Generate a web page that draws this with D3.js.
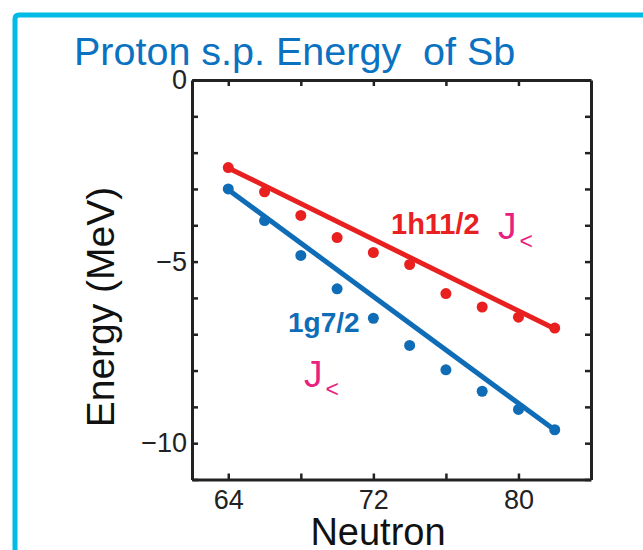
<!DOCTYPE html>
<html>
<head>
<meta charset="utf-8">
<script src="https://cdn.jsdelivr.net/npm/d3@7"></script>
<style>
  body { margin: 0; background: #fff; }
  text { font-family: "Liberation Sans", Arial, Helvetica, sans-serif; }
</style>
</head>
<body>
<div id="chart"></div>
<script>
// neutron numbers of the Sb isotopes
const neutrons = [64, 66, 68, 70, 72, 74, 76, 78, 80, 82];
// proton single-particle energies (MeV)
const h11 = [-2.41, -3.08, -3.73, -4.34, -4.75, -5.08, -5.88, -6.25, -6.53, -6.83];
const g7 = [-3.0, -3.87, -4.83, -5.75, -6.56, -7.31, -7.98, -8.57, -9.07, -9.63];
// straight trend lines [neutron, energy]
const h11Fit = [[64, -2.42], [82, -6.85]];
const g7Fit = [[64, -3.02], [82, -9.64]];

const xTicks = [64, 68, 72, 76, 80];
const xLabels = [64, 72, 80];
const yTicks = [0, -1, -2, -3, -4, -5, -6, -7, -8, -9, -10, -11];
const yLabels = [0, -5, -10];

const W = 643, H = 550;
const red = "#e8201f", blue = "#0f6cb6", pink = "#e8217f";
const fontFam = "'Liberation Sans', Arial, Helvetica, sans-serif";

const svg = d3.select("#chart").append("svg")
  .attr("width", W)
  .attr("height", H);

// slide frame
svg.append("path")
  .attr("d", "M15,550 L15,19 Q15,15 19,15 L643,15")
  .attr("fill", "none")
  .attr("stroke", "#00bbe6")
  .attr("stroke-width", 5);

svg.append("text")
  .attr("x", 74)
  .attr("y", 65)
  .attr("font-size", 39.5)
  .attr("fill", "#0b72c2")
  .attr("xml:space", "preserve")
  .text("Proton s.p. Energy  of Sb");

const x = d3.scaleLinear().domain([62, 84]).range([192, 591]);
const y = d3.scaleLinear().domain([-11, 0]).range([479.5, 80]);

const fmt = d3.format("d");
const tick = 6;

const styleAxis = g => {
  g.select(".domain").attr("stroke", "#222").attr("stroke-width", 3);
  g.selectAll(".tick line").attr("stroke", "#222").attr("stroke-width", 2.5);
  g.selectAll(".tick text").attr("fill", "#222").attr("font-family", fontFam);
};

svg.append("g")
  .attr("transform", `translate(0,${y(-11)})`)
  .call(d3.axisBottom(x).tickValues(xTicks).tickSizeInner(-tick).tickSizeOuter(0)
    .tickPadding(8).tickFormat(d => xLabels.includes(d) ? fmt(d) : ""))
  .attr("font-size", 27)
  .call(styleAxis)
  .selectAll(".tick text").attr("dy", "0.72em").attr("y", 10);

svg.append("g")
  .attr("transform", `translate(0,${y(0)})`)
  .call(d3.axisTop(x).tickValues(xTicks).tickSizeInner(-tick).tickSizeOuter(0).tickFormat(""))
  .call(styleAxis);

svg.append("g")
  .attr("transform", `translate(${x(62)},0)`)
  .call(d3.axisLeft(y).tickValues(yTicks).tickSizeInner(-tick).tickSizeOuter(0)
    .tickPadding(5).tickFormat(d => yLabels.includes(d) ? fmt(d) : ""))
  .attr("font-size", 27)
  .call(styleAxis);

svg.append("g")
  .attr("transform", `translate(${x(84)},0)`)
  .call(d3.axisRight(y).tickValues(yTicks).tickSizeInner(-tick).tickSizeOuter(0).tickFormat(""))
  .call(styleAxis);

// axis titles
svg.append("text")
  .attr("transform", "translate(114,307) rotate(-90)")
  .attr("text-anchor", "middle")
  .attr("font-size", 39)
  .attr("fill", "#111")
  .text("Energy (MeV)");

svg.append("text")
  .attr("x", 378)
  .attr("y", 545)
  .attr("text-anchor", "middle")
  .attr("font-size", 38)
  .attr("fill", "#111")
  .text("Neutron");

// trend lines
const line = d3.line().x(d => x(d[0])).y(d => y(d[1]));
svg.append("path").attr("d", line(h11Fit))
  .attr("stroke", red).attr("stroke-width", 5).attr("fill", "none");
svg.append("path").attr("d", line(g7Fit))
  .attr("stroke", blue).attr("stroke-width", 5).attr("fill", "none");

// data points
svg.append("g").selectAll("circle")
  .data(neutrons.map((n, i) => [n, h11[i]]))
  .join("circle")
  .attr("cx", d => x(d[0]))
  .attr("cy", d => y(d[1]))
  .attr("r", 5.5)
  .attr("fill", red);

svg.append("g").selectAll("circle")
  .data(neutrons.map((n, i) => [n, g7[i]]))
  .join("circle")
  .attr("cx", d => x(d[0]))
  .attr("cy", d => y(d[1]))
  .attr("r", 5.5)
  .attr("fill", blue);

// labels
svg.append("text")
  .attr("x", 391)
  .attr("y", 234)
  .attr("font-size", 29)
  .attr("font-weight", "bold")
  .attr("fill", red)
  .text("1h11/2");

svg.append("text")
  .attr("x", 288)
  .attr("y", 332)
  .attr("font-size", 28)
  .attr("font-weight", "bold")
  .attr("fill", blue)
  .text("1g7/2");

const jLabel = (px, py) => {
  const t = svg.append("text")
    .attr("x", px)
    .attr("y", py)
    .attr("fill", pink);
  t.append("tspan").attr("font-size", 37).text("J");
  t.append("tspan").attr("font-size", 23).attr("dx", 3).attr("dy", 10).text("<");
};
jLabel(498, 239);
jLabel(304, 387);
</script>
</body>
</html>
